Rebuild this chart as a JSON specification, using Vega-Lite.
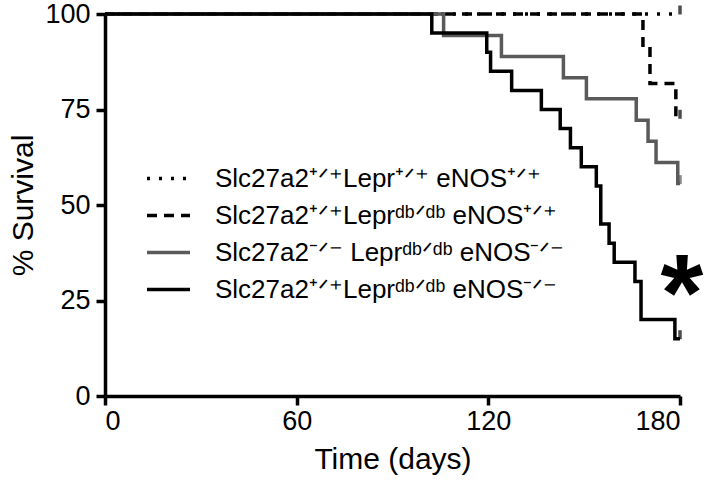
{
  "$schema": "https://vega.github.io/schema/vega-lite/v6.json",
  "width": 575,
  "height": 382,
  "autosize": {"type": "none"},
  "padding": {"left": 105, "top": 14, "right": 28, "bottom": 95},
  "background": "white",
  "config": {
    "view": {"stroke": null},
    "font": "Liberation Sans",
    "axis": {
      "domainColor": "black", "domainWidth": 3.5, "tickColor": "black", "tickWidth": 3.5, "tickSize": 9,
      "labelColor": "black", "labelFontSize": 27, "labelFont": "Liberation Sans",
      "titleFontSize": 30, "titleFontWeight": "normal", "titleColor": "black", "titleFont": "Liberation Sans",
      "grid": false
    }
  },
  "datasets": {
    "curves": [
      {"group": "Slc27a2⁺ᐟ⁺Lepr⁺ᐟ⁺ eNOS⁺ᐟ⁺", "day": 0, "pct": 100},
      {"group": "Slc27a2⁺ᐟ⁺Lepr⁺ᐟ⁺ eNOS⁺ᐟ⁺", "day": 180, "pct": 100},
      {"group": "Slc27a2⁺ᐟ⁺Leprᵈᵇᐟᵈᵇ eNOS⁺ᐟ⁺", "day": 0, "pct": 100},
      {"group": "Slc27a2⁺ᐟ⁺Leprᵈᵇᐟᵈᵇ eNOS⁺ᐟ⁺", "day": 168.4, "pct": 90.9},
      {"group": "Slc27a2⁺ᐟ⁺Leprᵈᵇᐟᵈᵇ eNOS⁺ᐟ⁺", "day": 170.6, "pct": 81.8},
      {"group": "Slc27a2⁺ᐟ⁺Leprᵈᵇᐟᵈᵇ eNOS⁺ᐟ⁺", "day": 178.7, "pct": 72.7},
      {"group": "Slc27a2⁺ᐟ⁺Leprᵈᵇᐟᵈᵇ eNOS⁺ᐟ⁺", "day": 180, "pct": 72.7},
      {"group": "Slc27a2⁻ᐟ⁻ Leprᵈᵇᐟᵈᵇ eNOS⁻ᐟ⁻", "day": 0, "pct": 100},
      {"group": "Slc27a2⁻ᐟ⁻ Leprᵈᵇᐟᵈᵇ eNOS⁻ᐟ⁻", "day": 106, "pct": 94.4},
      {"group": "Slc27a2⁻ᐟ⁻ Leprᵈᵇᐟᵈᵇ eNOS⁻ᐟ⁻", "day": 124.1, "pct": 88.9},
      {"group": "Slc27a2⁻ᐟ⁻ Leprᵈᵇᐟᵈᵇ eNOS⁻ᐟ⁻", "day": 143.5, "pct": 83.3},
      {"group": "Slc27a2⁻ᐟ⁻ Leprᵈᵇᐟᵈᵇ eNOS⁻ᐟ⁻", "day": 150.7, "pct": 77.8},
      {"group": "Slc27a2⁻ᐟ⁻ Leprᵈᵇᐟᵈᵇ eNOS⁻ᐟ⁻", "day": 166.3, "pct": 72.2},
      {"group": "Slc27a2⁻ᐟ⁻ Leprᵈᵇᐟᵈᵇ eNOS⁻ᐟ⁻", "day": 170, "pct": 66.7},
      {"group": "Slc27a2⁻ᐟ⁻ Leprᵈᵇᐟᵈᵇ eNOS⁻ᐟ⁻", "day": 172.5, "pct": 61.1},
      {"group": "Slc27a2⁻ᐟ⁻ Leprᵈᵇᐟᵈᵇ eNOS⁻ᐟ⁻", "day": 179.3, "pct": 55.6},
      {"group": "Slc27a2⁻ᐟ⁻ Leprᵈᵇᐟᵈᵇ eNOS⁻ᐟ⁻", "day": 180, "pct": 55.6},
      {"group": "Slc27a2⁺ᐟ⁺Leprᵈᵇᐟᵈᵇ eNOS⁻ᐟ⁻", "day": 0, "pct": 100},
      {"group": "Slc27a2⁺ᐟ⁺Leprᵈᵇᐟᵈᵇ eNOS⁻ᐟ⁻", "day": 102.3, "pct": 95},
      {"group": "Slc27a2⁺ᐟ⁺Leprᵈᵇᐟᵈᵇ eNOS⁻ᐟ⁻", "day": 119.5, "pct": 90},
      {"group": "Slc27a2⁺ᐟ⁺Leprᵈᵇᐟᵈᵇ eNOS⁻ᐟ⁻", "day": 120.7, "pct": 85},
      {"group": "Slc27a2⁺ᐟ⁺Leprᵈᵇᐟᵈᵇ eNOS⁻ᐟ⁻", "day": 127.3, "pct": 80},
      {"group": "Slc27a2⁺ᐟ⁺Leprᵈᵇᐟᵈᵇ eNOS⁻ᐟ⁻", "day": 136.6, "pct": 75},
      {"group": "Slc27a2⁺ᐟ⁺Leprᵈᵇᐟᵈᵇ eNOS⁻ᐟ⁻", "day": 142.5, "pct": 70},
      {"group": "Slc27a2⁺ᐟ⁺Leprᵈᵇᐟᵈᵇ eNOS⁻ᐟ⁻", "day": 145.7, "pct": 65},
      {"group": "Slc27a2⁺ᐟ⁺Leprᵈᵇᐟᵈᵇ eNOS⁻ᐟ⁻", "day": 149.1, "pct": 60},
      {"group": "Slc27a2⁺ᐟ⁺Leprᵈᵇᐟᵈᵇ eNOS⁻ᐟ⁻", "day": 153.8, "pct": 55},
      {"group": "Slc27a2⁺ᐟ⁺Leprᵈᵇᐟᵈᵇ eNOS⁻ᐟ⁻", "day": 155.2, "pct": 45},
      {"group": "Slc27a2⁺ᐟ⁺Leprᵈᵇᐟᵈᵇ eNOS⁻ᐟ⁻", "day": 157.8, "pct": 40},
      {"group": "Slc27a2⁺ᐟ⁺Leprᵈᵇᐟᵈᵇ eNOS⁻ᐟ⁻", "day": 159.4, "pct": 35},
      {"group": "Slc27a2⁺ᐟ⁺Leprᵈᵇᐟᵈᵇ eNOS⁻ᐟ⁻", "day": 165.9, "pct": 30},
      {"group": "Slc27a2⁺ᐟ⁺Leprᵈᵇᐟᵈᵇ eNOS⁻ᐟ⁻", "day": 167.8, "pct": 20},
      {"group": "Slc27a2⁺ᐟ⁺Leprᵈᵇᐟᵈᵇ eNOS⁻ᐟ⁻", "day": 178.4, "pct": 15},
      {"group": "Slc27a2⁺ᐟ⁺Leprᵈᵇᐟᵈᵇ eNOS⁻ᐟ⁻", "day": 180, "pct": 15}
    ],
    "ends": [
      {"group": "Slc27a2⁺ᐟ⁺Lepr⁺ᐟ⁺ eNOS⁺ᐟ⁺", "day": 180, "pct": 100},
      {"group": "Slc27a2⁺ᐟ⁺Leprᵈᵇᐟᵈᵇ eNOS⁺ᐟ⁺", "day": 180, "pct": 72.7},
      {"group": "Slc27a2⁻ᐟ⁻ Leprᵈᵇᐟᵈᵇ eNOS⁻ᐟ⁻", "day": 180, "pct": 55.6},
      {"group": "Slc27a2⁺ᐟ⁺Leprᵈᵇᐟᵈᵇ eNOS⁻ᐟ⁻", "day": 180, "pct": 15}
    ],
    "star": [{"day": 180, "pct": 30, "t": "*"}]
  },
  "layer": [
    {
      "data": {"name": "curves"},
      "mark": {"type": "line", "interpolate": "step-after", "strokeWidth": 3.5, "strokeCap": "butt", "clip": false},
      "encoding": {
        "x": {"field": "day", "type": "quantitative", "scale": {"domain": [0, 180]},
              "axis": {"values": [0, 60, 120, 180], "title": "Time (days)", "labelPadding": 3, "titlePadding": 10}},
        "y": {"field": "pct", "type": "quantitative", "scale": {"domain": [0, 100]},
              "axis": {"values": [0, 25, 50, 75, 100], "title": "% Survival", "labelPadding": 6, "titlePadding": 6}},
        "color": {"field": "group", "type": "nominal",
                  "scale": {"domain": ["Slc27a2⁺ᐟ⁺Lepr⁺ᐟ⁺ eNOS⁺ᐟ⁺", "Slc27a2⁺ᐟ⁺Leprᵈᵇᐟᵈᵇ eNOS⁺ᐟ⁺", "Slc27a2⁻ᐟ⁻ Leprᵈᵇᐟᵈᵇ eNOS⁻ᐟ⁻", "Slc27a2⁺ᐟ⁺Leprᵈᵇᐟᵈᵇ eNOS⁻ᐟ⁻"],
                            "range": ["black", "black", "#5a5a5a", "black"]},
                  "legend": {"orient": "none", "legendX": 40, "legendY": 141, "title": null, "symbolType": "stroke",
                             "symbolSize": 1850, "symbolStrokeWidth": 3.5, "labelFontSize": 26, "labelFont": "Liberation Sans", "labelColor": "black",
                             "labelOffset": 23, "rowPadding": 0, "labelLimit": 600}},
        "strokeDash": {"field": "group", "type": "nominal",
                       "scale": {"domain": ["Slc27a2⁺ᐟ⁺Lepr⁺ᐟ⁺ eNOS⁺ᐟ⁺", "Slc27a2⁺ᐟ⁺Leprᵈᵇᐟᵈᵇ eNOS⁺ᐟ⁺", "Slc27a2⁻ᐟ⁻ Leprᵈᵇᐟᵈᵇ eNOS⁻ᐟ⁻", "Slc27a2⁺ᐟ⁺Leprᵈᵇᐟᵈᵇ eNOS⁻ᐟ⁻"],
                                 "range": [[3, 9], [10, 7], [1, 0], [1, 0]]},
                       "legend": {"orient": "none", "legendX": 40, "legendY": 141, "title": null, "symbolType": "stroke",
                             "symbolSize": 1850, "symbolStrokeWidth": 3.5, "labelFontSize": 26, "labelFont": "Liberation Sans", "labelColor": "black",
                             "labelOffset": 23, "rowPadding": 0, "labelLimit": 600}}
      }
    },
    {
      "data": {"name": "ends"},
      "mark": {"type": "tick", "orient": "vertical", "size": 9, "thickness": 3.5, "yOffset": -4, "clip": false},
      "encoding": {
        "x": {"field": "day", "type": "quantitative"},
        "y": {"field": "pct", "type": "quantitative"},
        "color": {"field": "group", "type": "nominal", "legend": null}
      }
    },
    {
      "data": {"name": "star"},
      "mark": {"type": "text", "font": "Liberation Sans", "fontSize": 110, "fontWeight": "bold", "align": "center", "baseline": "middle", "dx": 2, "dy": 16, "color": "black"},
      "encoding": {
        "x": {"field": "day", "type": "quantitative"},
        "y": {"field": "pct", "type": "quantitative"},
        "text": {"field": "t"}
      }
    }
  ]
}
